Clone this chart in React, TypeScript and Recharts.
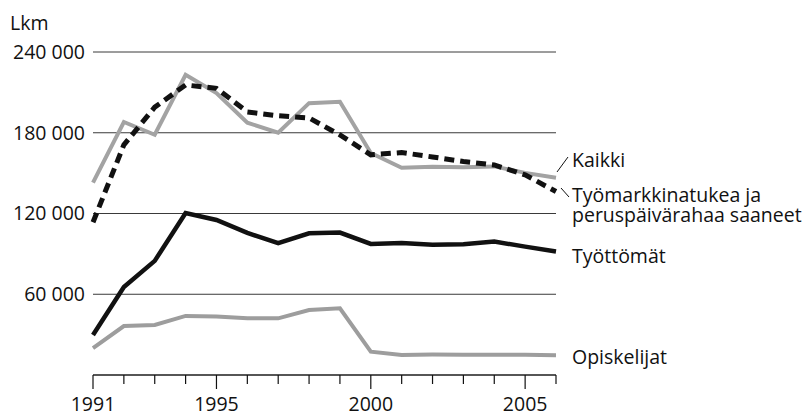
import { CartesianGrid, Line, LineChart, XAxis, YAxis } from "recharts";

const YEARS = [
  1991, 1992, 1993, 1994, 1995, 1996, 1997, 1998, 1999, 2000, 2001, 2002, 2003,
  2004, 2005, 2006,
];
const KAIKKI = [
  143000, 188000, 178500, 223000, 209500, 187500, 180000, 202000, 203000,
  165000, 154000, 154800, 154400, 155000, 150200, 146500,
];
const TYOMARKKINATUKI = [
  113500, 171000, 199000, 215500, 213000, 195500, 192600, 191000, 178400,
  163600, 165300, 162000, 158600, 156100, 148700, 136300,
];
const TYOTTOMAT = [
  29700, 65400, 84800, 120400, 115200, 105600, 97900, 105300, 105800, 97400,
  98100, 96700, 97200, 99100, 95400, 91700,
];
const OPISKELIJAT = [
  20000, 36400, 37200, 43900, 43400, 42100, 42100, 48300, 49600, 17300, 14900,
  15200, 15000, 15000, 15000, 14700,
];
const Y_TICKS = [0, 60000, 120000, 180000, 240000];
const LABELED_YEARS = [1991, 1995, 2000, 2005];

const data = YEARS.map((year, i) => ({
  year,
  kaikki: KAIKKI[i],
  tuki: TYOMARKKINATUKI[i],
  tyottomat: TYOTTOMAT[i],
  opiskelijat: OPISKELIJAT[i],
}));

const FONT = "'Open Sans', sans-serif";
const SIZE = 19.5;
const INK = "#111";
const GREY = "#9d9d9d";

const fmt = (v: number) =>
  v === 0 ? "" : String(v).replace(/\B(?=(\d{3})+(?!\d))/g, " ");

function YearTick(props: any) {
  const { x, y, payload } = props;
  const major = LABELED_YEARS.includes(payload.value);
  return (
    <g>
      <line x1={x} x2={x} y1={y} y2={y + (major ? 14 : 9)} stroke={INK} strokeWidth={1.2} />
      {major && (
        <text x={x} y={y + 36} textAnchor="middle" fontFamily={FONT} fontSize={SIZE} fill={INK}>
          {payload.value}
        </text>
      )}
    </g>
  );
}

const label = (top: number, text: string) => (
  <div
    style={{
      position: "absolute",
      left: 572,
      top,
      fontFamily: FONT,
      fontSize: SIZE,
      lineHeight: "18px",
      color: INK,
      whiteSpace: "nowrap",
    }}
  >
    {text}
  </div>
);

export default function App() {
  return (
    <div style={{ position: "absolute", left: 0, top: 0, width: 802, height: 419, background: "#fff" }}>
      <LineChart
        width={802}
        height={419}
        data={data}
        margin={{ top: 52, right: 246, bottom: 0, left: 0 }}
      >
        <CartesianGrid vertical={false} stroke="#3a3a3a" strokeWidth={1} />
        <XAxis
          dataKey="year"
          type="number"
          domain={[1991, 2006]}
          ticks={YEARS}
          interval={0}
          height={44}
          tickSize={0}
          tickMargin={0}
          tickLine={false}
          axisLine={{ stroke: INK, strokeWidth: 1.2 }}
          tick={<YearTick />}
        />
        <YAxis
          domain={[0, 240000]}
          ticks={Y_TICKS}
          width={93}
          axisLine={false}
          tickLine={false}
          tickSize={0}
          tickMargin={8}
          tickFormatter={fmt}
          tick={{ fontFamily: FONT, fontSize: SIZE, fill: INK }}
        />
        <Line dataKey="opiskelijat" stroke={GREY} strokeWidth={4} dot={false} isAnimationActive={false} />
        <Line dataKey="tyottomat" stroke={INK} strokeWidth={4.5} dot={false} isAnimationActive={false} />
        <Line dataKey="kaikki" stroke="#a3a3a3" strokeWidth={4} dot={false} isAnimationActive={false} />
        <Line
          dataKey="tuki"
          stroke={INK}
          strokeWidth={5}
          strokeDasharray="10 6"
          dot={false}
          isAnimationActive={false}
        />
      </LineChart>
      <svg width={802} height={419} style={{ position: "absolute", left: 0, top: 0, pointerEvents: "none" }}>
        <line x1={557} y1={172} x2={568} y2={157} stroke={INK} strokeWidth={1} />
        <line x1={561} y1={188} x2={569} y2={197} stroke={INK} strokeWidth={1} />
      </svg>
      <div
        style={{
          position: "absolute",
          left: 10,
          top: 14,
          fontFamily: FONT,
          fontSize: SIZE,
          lineHeight: "18px",
          color: INK,
        }}
      >
        Lkm
      </div>
      {label(151, "Kaikki")}
      {label(186, "Työmarkkinatukea ja")}
      {label(206, "peruspäivärahaa saaneet")}
      {label(247, "Työttömät")}
      {label(348, "Opiskelijat")}
    </div>
  );
}
